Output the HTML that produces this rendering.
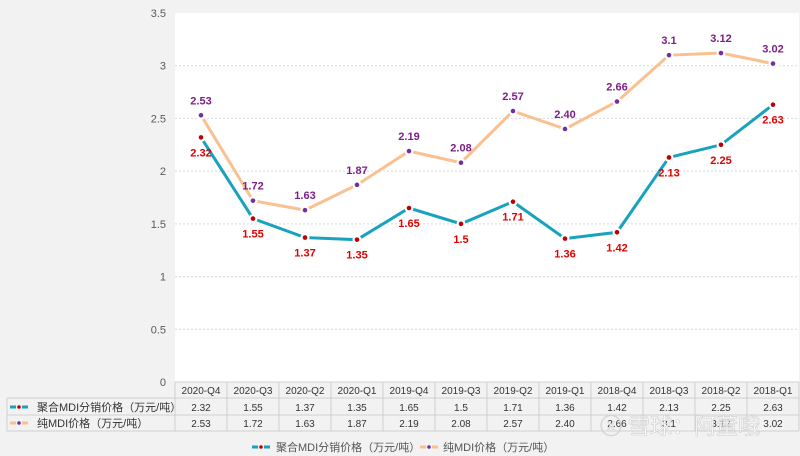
<!DOCTYPE html>
<html><head><meta charset="utf-8"><style>
body{margin:0;background:#f2f2f2;font-family:"Liberation Sans","Noto Sans CJK SC",sans-serif;}
svg{display:block}
</style></head><body>
<svg width="800" height="456" id="c" xmlns="http://www.w3.org/2000/svg">
<rect x="0" y="0" width="800" height="456" fill="#f2f2f2"/>
<rect x="175" y="13" width="624" height="369" fill="#fff"/>
<g id="grid"></g><g id="lines"></g><g id="tbl"></g>
</svg>
<script>
const categories=["2020-Q4","2020-Q3","2020-Q2","2020-Q1","2019-Q4","2019-Q3","2019-Q2","2019-Q1","2018-Q4","2018-Q3","2018-Q2","2018-Q1"];
const blended=[2.32,1.55,1.37,1.35,1.65,1.5,1.71,1.36,1.42,2.13,2.25,2.63];
const pure=[2.53,1.72,1.63,1.87,2.19,2.08,2.57,2.40,2.66,3.1,3.12,3.02];
const blendedLabels=["2.32","1.55","1.37","1.35","1.65","1.5","1.71","1.36","1.42","2.13","2.25","2.63"];
const pureLabels=["2.53","1.72","1.63","1.87","2.19","2.08","2.57","2.40","2.66","3.1","3.12","3.02"];
const yTicks=[0,0.5,1,1.5,2,2.5,3,3.5];
const yTickLabels=["0","0.5","1","1.5","2","2.5","3","3.5"];
const NS="http://www.w3.org/2000/svg";
const x0=175,cw=52,yB=382,yT=13,yMax=3.5;
const X=i=>x0+cw*i+cw/2;
const Y=v=>yB-(v/yMax)*(yB-yT);
function mk(t,a,p,txt){const e=document.createElementNS(NS,t);for(const k in a)e.setAttribute(k,a[k]);if(txt!==undefined)e.textContent=txt;p.appendChild(e);return e;}
const grid=document.getElementById('grid'),lines=document.getElementById('lines'),tbl=document.getElementById('tbl');
yTicks.forEach((v,i)=>{
  if(v>0&&v<3.5){const l=mk('line',{x1:x0,x2:799,y1:Y(v),y2:Y(v),stroke:'#d9d9d9','stroke-dasharray':'2,2'},grid);
  
  }
  const t=mk('text',{x:166,y:Y(v)+4,'text-anchor':'end','font-size':11,fill:'#595959'},grid,yTickLabels[i]);
  
  
});
function series(vals,labs,col,mcol,lcol,above,name){
  const pl=mk('polyline',{points:vals.map((v,i)=>X(i)+','+Y(v)).join(' '),fill:'none',stroke:col,'stroke-width':3},lines);
  
  
  vals.forEach((v,i)=>{
    mk('circle',{cx:X(i),cy:Y(v),r:4.5,fill:'#fff'},lines);
    const c=mk('circle',{cx:X(i),cy:Y(v),r:2.3,fill:mcol},lines);
    
    
    const t=mk('text',{x:X(i),y:above?Y(v)-11:Y(v)+19,'text-anchor':'middle','font-size':11,'font-weight':'bold',fill:lcol},lines,labs[i]);
    
    
  });
}
series(pure,pureLabels,'#fac090','#7030a0','#7b1f86',true,'pure-mdi');
series(blended,blendedLabels,'#17a2bd','#c00000','#e00000',false,'blended-mdi');
mk('rect',{x:7,y:398,width:792,height:33,fill:'#f2f2f2'},tbl);
[[x0,382,799,382],[x0,398,799,398],[7,398,799,398],[7,415,799,415],[7,431,799,431],[7,398,7,431]].forEach(a=>{mk('line',{x1:a[0],y1:a[1],x2:a[2],y2:a[3],stroke:'#d0d0d0'},tbl);});
for(let i=0;i<=12;i++)mk('line',{x1:x0+cw*i,y1:382,x2:x0+cw*i,y2:431,stroke:'#d0d0d0'},tbl);
categories.forEach((c,i)=>{
  const t=mk('text',{x:X(i),y:394,'text-anchor':'middle','font-size':10,fill:'#333'},tbl,c);
  
  
  mk('text',{x:X(i),y:411,'text-anchor':'middle','font-size':10,fill:'#333'},tbl,blendedLabels[i]);
  mk('text',{x:X(i),y:427,'text-anchor':'middle','font-size':10,fill:'#333'},tbl,pureLabels[i]);
});
function key(x,y,col,mcol){mk('line',{x1:x,y1:y,x2:x+6,y2:y,stroke:col,'stroke-width':3},tbl);mk('line',{x1:x+12,y1:y,x2:x+18,y2:y,stroke:col,'stroke-width':3},tbl);mk('circle',{cx:x+9,cy:y,r:1.8,fill:mcol},tbl);}
key(10,407,'#17a2bd','#c00000');key(10,423,'#fac090','#7030a0');
let t=mk('text',{x:37,y:411,'font-size':11,fill:'#333'},tbl,'聚合MDI分销价格（万元/吨）');


t=mk('text',{x:37,y:427,'font-size':11,fill:'#333'},tbl,'纯MDI价格（万元/吨）');


key(252,447,'#17a2bd','#c00000');
t=mk('text',{x:276,y:451,'font-size':11,fill:'#555'},tbl,'聚合MDI分销价格（万元/吨）');


key(420,447,'#fac090','#7030a0');
t=mk('text',{x:443,y:451,'font-size':11,fill:'#555'},tbl,'纯MDI价格（万元/吨）');


t=mk('text',{x:600,y:434,'font-size':22,fill:'#ffffff','fill-opacity':0.8,stroke:'#cfcfcf','stroke-width':0.6},tbl,'ⓧ 雪球：阿董哦');


</script>
</body></html>
